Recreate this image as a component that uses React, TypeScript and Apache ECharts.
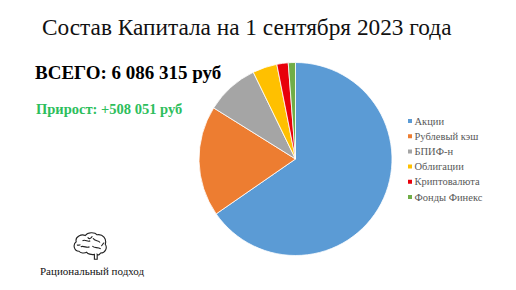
import React, { useEffect, useRef } from "react";
import * as echarts from "echarts";

const categories = ["Акции", "Рублевый кэш", "БПИФ-н", "Облигации", "Криптовалюта", "Фонды Финекс"];
const shares = [65.3, 18.5, 8.9, 4.1, 1.9, 1.2];
const colors = ["#5B9BD5", "#ED7D31", "#A5A5A5", "#FFC000", "#E8000B", "#70AD47"];
const titleText = "Состав Капитала на 1 сентября 2023 года";
const totalText = "ВСЕГО: 6 086 315 руб";
const growthText = "Прирост: +508 051 руб";
const brandText = "Рациональный подход";

const brainPath =
  "M 20 55 C 5 55 2 35 12 28 C 8 12 28 5 38 10 C 45 0 65 0 72 8 C 88 5 100 20 95 35 C 102 45 95 60 82 60 L 80 62 C 78 66 74 66 72 64 L 72 78 L 64 78 L 64 64 C 55 66 45 62 42 58 C 35 62 24 60 20 55 Z " +
  "M 30 25 C 38 20 45 30 52 25 M 60 18 C 66 28 75 22 80 30 M 25 42 C 35 38 42 48 50 42 M 58 40 C 64 48 72 42 82 48 M 45 15 C 48 22 55 18 58 12 M 14 38 C 18 36 20 40 24 36 M 84 40 C 88 36 90 30 92 32";

let registered = false;

export default function App() {
  const ref = useRef<HTMLDivElement>(null);
  useEffect(() => {
    if (!ref.current) return;
    if (!registered) {
      echarts.graphic.registerShape("brain", echarts.graphic.extendPath(brainPath, {}) as any);
      registered = true;
    }
    const chart = echarts.init(ref.current, null, { renderer: "svg" });
    const serif = "Liberation Serif";
    chart.setOption({
      animation: false,
      backgroundColor: "#ffffff",
      color: colors,
      title: [
        { text: titleText, left: 37, top: 10, textStyle: { fontFamily: serif, fontSize: 23.3, fontWeight: "normal", color: "#111" } },
        { text: totalText, left: 30, top: 58, textStyle: { fontFamily: serif, fontSize: 19, fontWeight: "bold", color: "#000" } },
        { text: growthText, left: 31, top: 96, textStyle: { fontFamily: serif, fontSize: 14.5, fontWeight: "bold", color: "#2DBE5C" } },
      ],
      legend: {
        orient: "vertical",
        left: 401,
        top: 110,
        itemWidth: 6,
        itemHeight: 6,
        itemGap: 3.2,
        icon: "rect",
        data: categories,
        textStyle: { fontFamily: serif, fontSize: 10.5, color: "#595959", lineHeight: 12, padding: [0, 0, 0, -3.5] },
      },
      graphic: [
        {
          type: "brain",
          x: 72,
          y: 232,
          scaleX: 0.35,
          scaleY: 0.35,
          style: { fill: "none", stroke: "#222", lineWidth: 3.2 },
        },
        {
          type: "text",
          left: 40,
          top: 265,
          style: { text: brandText, fontFamily: serif, fontSize: 11, fill: "#111" },
        },
      ],
      series: [
        {
          type: "pie",
          center: [295.5, 159],
          radius: 96.5,
          startAngle: 90,
          clockwise: true,
          label: { show: false },
          labelLine: { show: false },
          itemStyle: { borderColor: "#ffffff", borderWidth: 0.8 },
          data: categories.map((name, i) => ({ name, value: shares[i] })),
        },
      ],
    });
    return () => chart.dispose();
  }, []);
  return <div ref={ref} style={{ width: 516, height: 290, position: "absolute", left: 0, top: 0 }} />;
}
